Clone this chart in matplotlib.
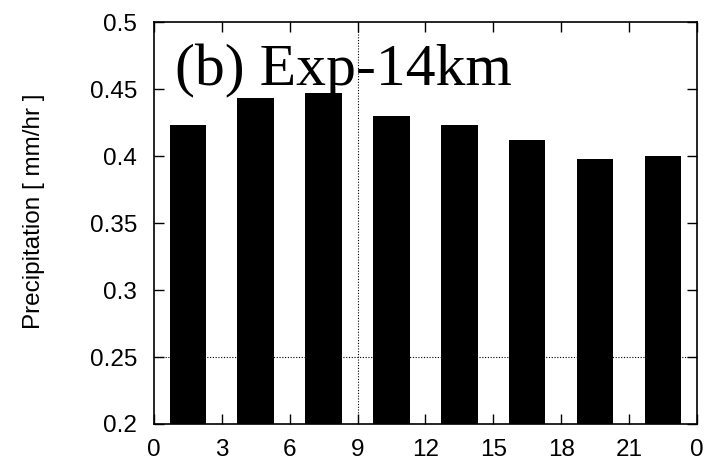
import numpy as np
import matplotlib.pyplot as plt

# 3-hourly mean precipitation, Exp-14km
hours = [1.5, 4.5, 7.5, 10.5, 13.5, 16.5, 19.5, 22.5]
precip = [0.4234, 0.4435, 0.447, 0.430, 0.4234, 0.4117, 0.3975, 0.3998]
tick_pos = [0, 3, 6, 9, 12, 15, 18, 21, 24]
tick_labels = ['0', '3', '6', '9', '12', '15', '18', '21', '0']
y_ticks = [0.2, 0.25, 0.3, 0.35, 0.4, 0.45, 0.5]
y_labels = ['0.2', '0.25', '0.3', '0.35', '0.4', '0.45', '0.5']

plt.rcParams['font.family'] = ['Liberation Sans', 'DejaVu Sans']

fig = plt.figure(figsize=(7.06, 4.62), dpi=100)
ax = fig.add_axes([0.218, 0.0823, 0.769, 0.8697])

# dotted reference lines behind the bars
ax.axvline(9, color='black', linestyle=(0, (1, 1.5)), linewidth=0.8, zorder=1)
ax.axhline(0.25, color='black', linestyle=(0, (1, 1.5)), linewidth=0.8, zorder=1)

ax.bar(hours, precip, width=1.62, bottom=0, color='black', zorder=2)

ax.set_xlim(0, 24)
ax.set_ylim(0.2, 0.5)
ax.set_xticks(tick_pos)
ax.set_xticklabels(tick_labels)
ax.set_yticks(y_ticks)
ax.set_yticklabels(y_labels)
ax.tick_params(direction='in', length=7, width=1, top=True, right=True,
               labelsize=17.5)
ax.tick_params(axis='y', pad=12)
ax.tick_params(axis='x', pad=10.5)
for s in ax.spines.values():
    s.set_linewidth(1.2)

ax.set_ylabel('Precipitation [ mm/hr ]', fontsize=17.5)
ax.yaxis.set_label_coords(-0.2, 0.53)

ax.text(0.039, 0.843, '(b) Exp-14km', transform=ax.transAxes,
        fontsize=43, family=['Liberation Serif', 'DejaVu Serif'],
        va='baseline', ha='left', zorder=3)

fig.savefig('out.png', dpi=100)
